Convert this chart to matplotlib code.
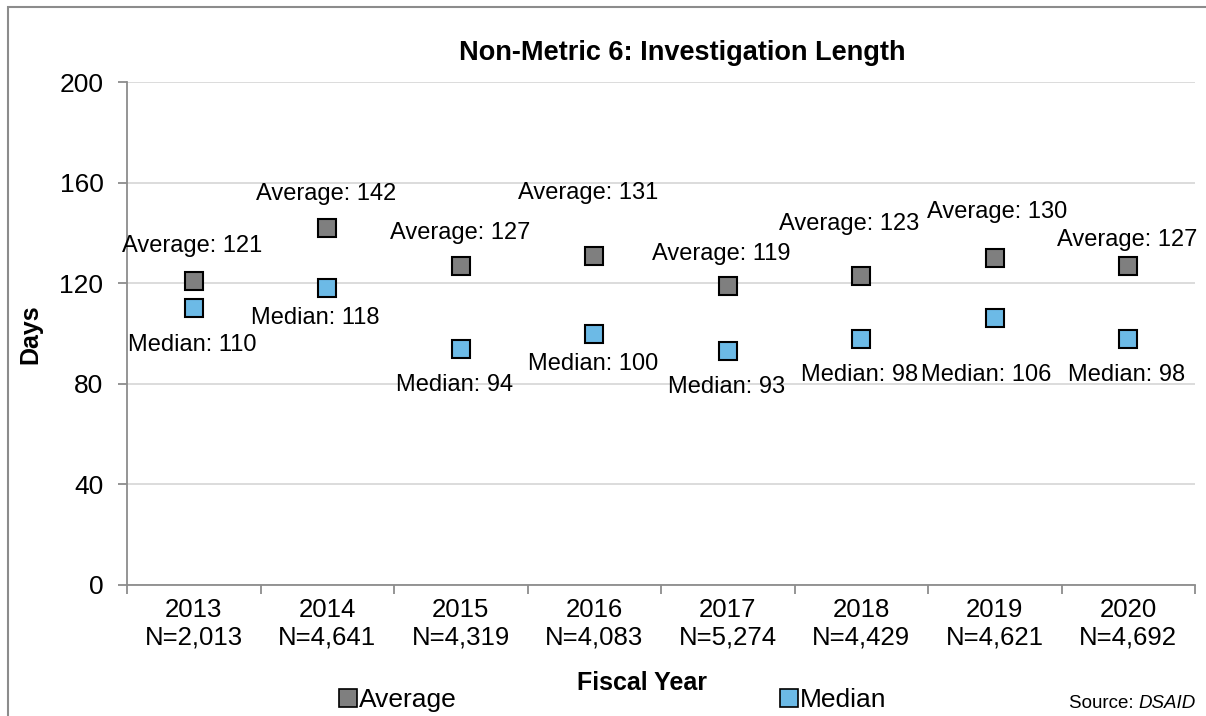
#!/usr/bin/env python
''' Non-Metric 6: investigation length, average and median days by fiscal year '''

import matplotlib
matplotlib.use('Agg')
import matplotlib.pyplot as plt
from matplotlib.patches import Rectangle
from matplotlib.lines import Line2D

plt.rcParams['font.family'] = ['Liberation Sans', 'DejaVu Sans']

##### DATA ######
years = ['2013', '2014', '2015', '2016', '2017', '2018', '2019', '2020']
n_cases = ['2,013', '4,641', '4,319', '4,083', '5,274', '4,429', '4,621', '4,692']
average = [121, 142, 127, 131, 119, 123, 130, 127]
median = [110, 118, 94, 100, 93, 98, 106, 98]

# label offsets (pixels) as placed in the original chart
avg_off = [(-2, 35), (-1, 34), (-1, 33), (-6, 63), (-6, 32), (-12, 52), (2, 46), (-1, 26)]
med_off = [(-1, -37), (-12, -30), (-6, -36), (-1, -31), (-1, -36), (-2, -36), (-9, -57), (-2, -36)]
#################

gray = '#7f7f7f'
blue = '#6cbae6'
axcol = '#8c8c8c'

fig = plt.figure(figsize=(12.06, 7.16), dpi=100)
ax = fig.add_axes([127/1206, 1 - 585/716, (1195-127)/1206, (585-82)/716])

x = list(range(len(years)))
ax.plot(x, average, 's', ms=13, mfc=gray, mec='black', mew=1.5, zorder=3)
ax.plot(x, median, 's', ms=13, mfc=blue, mec='black', mew=1.5, zorder=3)

for i in x:
    ax.annotate('Average: %d' % average[i], (i, average[i]), xytext=avg_off[i],
                textcoords='offset pixels', ha='center', va='center', fontsize=17)
    ax.annotate('Median: %d' % median[i], (i, median[i]), xytext=med_off[i],
                textcoords='offset pixels', ha='center', va='center', fontsize=17)

ax.set_xlim(-0.5, len(years) - 0.5)
ax.set_ylim(0, 200)
ax.set_yticks([0, 40, 80, 120, 160, 200])
ax.set_xticks(x)
ax.set_xticklabels(['%s\nN=%s' % (y, n) for y, n in zip(years, n_cases)],
                   fontsize=18.5, linespacing=1.2)
ax.set_xticks([i - 0.5 for i in range(len(years) + 1)], minor=True)
ax.tick_params(axis='x', which='major', length=0, pad=9.5)
ax.tick_params(axis='x', which='minor', length=6.5, color=axcol, width=1.3, direction='out')
ax.tick_params(axis='y', labelsize=19, length=6.5, color=axcol, width=1.3, pad=10.5)
ax.grid(axis='y', color='#d9d9d9', lw=1.3, zorder=0)
ax.set_axisbelow(True)
for s in ['top', 'right']:
    ax.spines[s].set_visible(False)
for s in ['left', 'bottom']:
    ax.spines[s].set_color(axcol)
    ax.spines[s].set_linewidth(1.3)

fig.text(682/1206, 1 - 53/716, 'Non-Metric 6: Investigation Length', ha='center',
         va='center', fontsize=19.5, fontweight='bold')
fig.text(30/1206, 1 - 334/716, 'Days', rotation=90, ha='center', va='center',
         fontsize=18, fontweight='bold')
fig.text(642/1206, 1 - 683/716, 'Fiscal Year', ha='center', va='center',
         fontsize=18, fontweight='bold')

handles = [Line2D([], [], ls='', marker='s', ms=12.5, mfc=gray, mec='black', mew=1.2),
           Line2D([], [], ls='', marker='s', ms=12.5, mfc=blue, mec='black', mew=1.2)]
fig.legend(handles, ['Average', 'Median'], loc='center', bbox_to_anchor=(613/1206, 1 - 700/716),
           ncol=2, frameon=False, fontsize=19, handlelength=0.65, handletextpad=0.08,
           columnspacing=12.3, borderpad=0, borderaxespad=0)

# source note, DSAID in italics
r = fig.canvas.get_renderer()
t2 = fig.text(1196/1206, 1 - 703/716, 'DSAID', ha='right', va='center', fontsize=13.5, style='italic')
w = t2.get_window_extent(renderer=r).width
fig.text((1196 - w)/1206, 1 - 703/716, 'Source: ', ha='right', va='center', fontsize=13.5)

# outer chart border
fig.patches.append(Rectangle((8/1206, -0.05), 1.2, 1 - 7/716 + 0.05, transform=fig.transFigure,
                             fill=False, ec='#8c8c8c', lw=1.5, figure=fig))

plt.savefig('out.png', dpi=100)
